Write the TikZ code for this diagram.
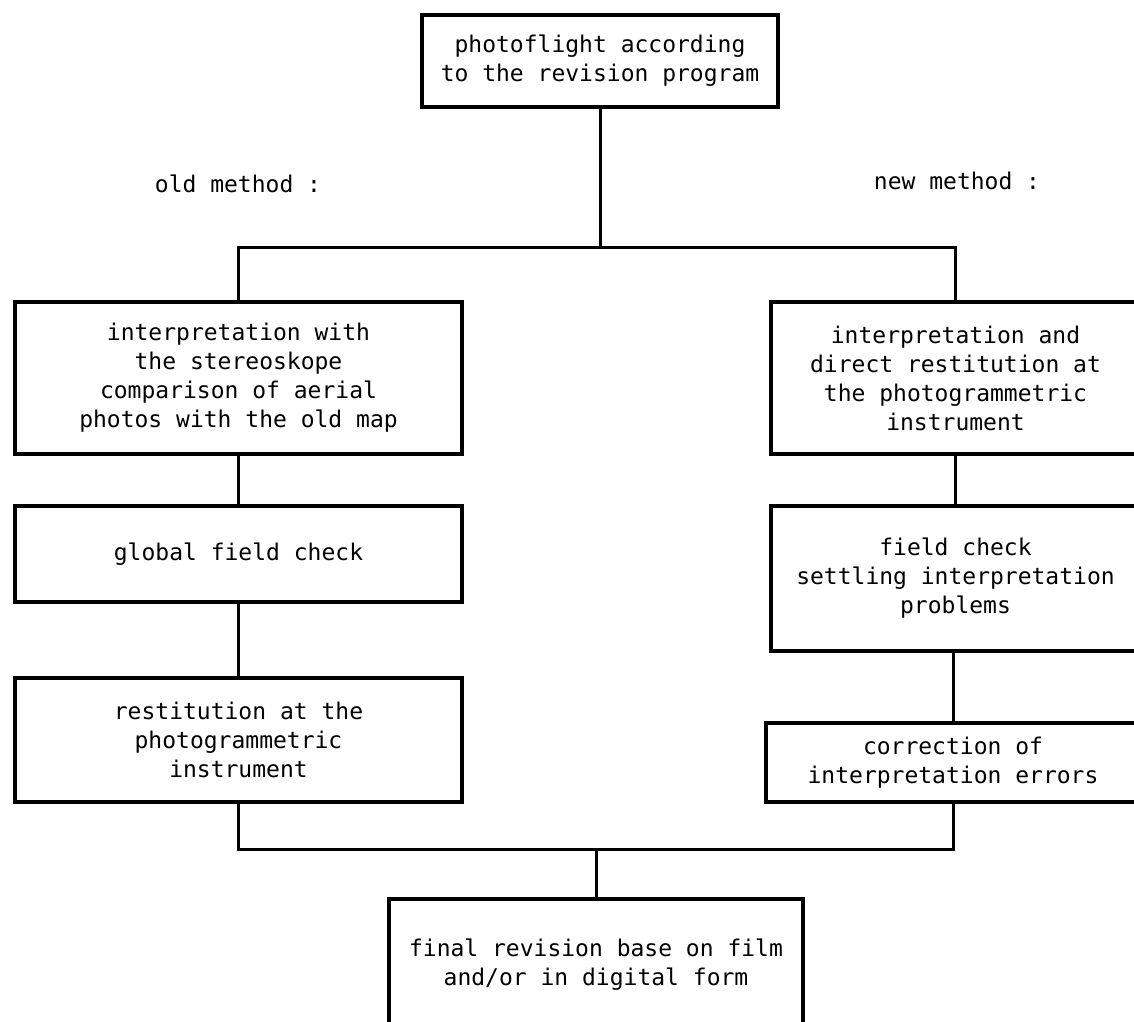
\documentclass[tikz,border=0pt]{standalone}
\usepackage{fontspec}
\newfontfamily\typewriter{DejaVu Sans Mono}
\begin{document}
\begin{tikzpicture}[x=1pt,y=-1pt,
  boxstyle/.style={draw=black, line width=4.5pt, inner sep=0pt, align=center,
    font=\typewriter\fontsize{23}{29}\selectfont},
  linkstyle/.style={draw=black, line width=3pt},
  labelstyle/.style={font=\typewriter\fontsize{23}{29}\selectfont, inner sep=0pt}]
\useasboundingbox (0,0) rectangle (1134,1021);
\fill[white] (0,0) rectangle (1134,1021);
\begin{scope}
\clip (0,0) rectangle (1134,1021);
\node[boxstyle, minimum width=356pt, minimum height=92pt] (top) at (600,61)
  {photoflight according\\to the revision program};
\node[labelstyle] (oldm) at (238,184) {old method :};
\node[labelstyle] (newm) at (957,181) {new method :};

\node[boxstyle, minimum width=447pt, minimum height=152pt] (L1) at (238.5,378)
  {interpretation with\\the stereoskope\\comparison of aerial\\photos with the old map};
\node[boxstyle, minimum width=447pt, minimum height=96pt] (L2) at (238.5,554)
  {global field check};
\node[boxstyle, minimum width=447pt, minimum height=124pt] (L3) at (238.5,740)
  {restitution at the\\photogrammetric\\instrument};

\node[boxstyle, minimum width=369pt, minimum height=152pt] (R1) at (955.5,378)
  {interpretation and\\direct restitution at\\the photogrammetric\\instrument};
\node[boxstyle, minimum width=369pt, minimum height=145pt] (R2) at (955.5,578.5)
  {field check\\settling interpretation\\problems};
\node[boxstyle, minimum width=374pt, minimum height=79pt] (R3) at (953,762.5)
  {correction of\\interpretation errors};

\node[boxstyle, minimum width=414pt, minimum height=132pt] (B) at (596,965)
  {final revision base on film\\and/or in digital form};

\coordinate (j1) at (600,247);
\coordinate (j2) at (596,849);
\draw[linkstyle] (top.south) -- (j1);
\draw[linkstyle] (L1.north) |- (j1) -| (R1.north);
\draw[linkstyle] (L1.south) -- (L2.north);
\draw[linkstyle] (L2.south) -- (L3.north);
\draw[linkstyle] (R1.south) -- (R2.north);
\draw[linkstyle] (R2.south -| R3.north) -- (R3.north);
\draw[linkstyle] (L3.south) |- (j2) -| (R3.south);
\draw[linkstyle] (j2) -- (B.north);
\end{scope}
\end{tikzpicture}
\end{document}
